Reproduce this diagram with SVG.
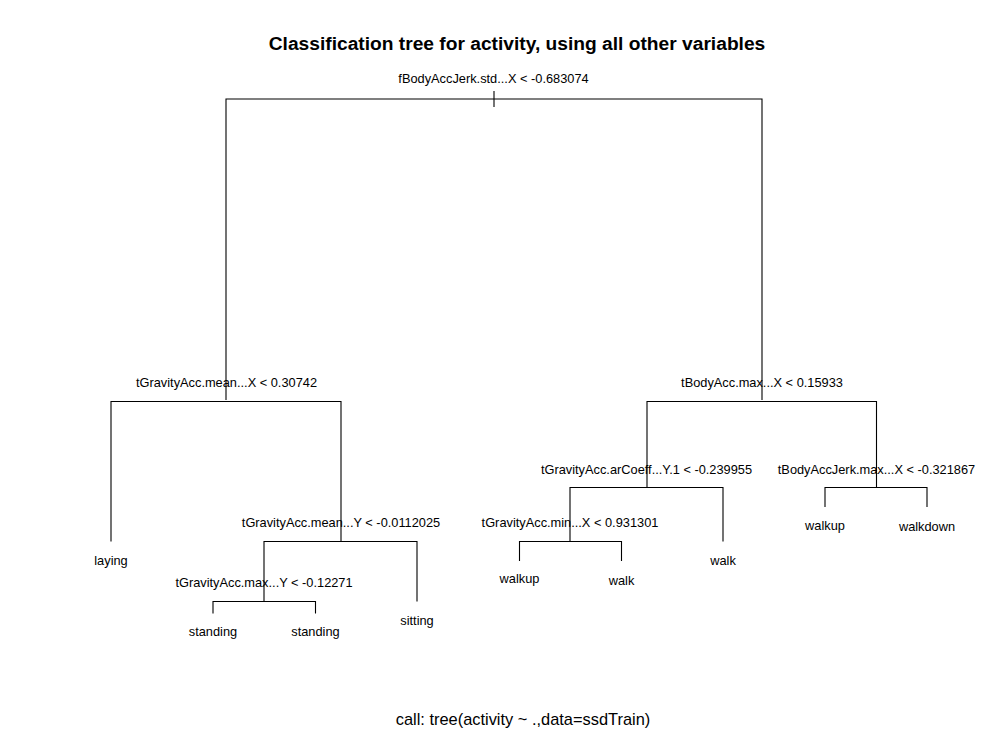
<svg xmlns="http://www.w3.org/2000/svg" width="1000" height="732" viewBox="0 0 1000 732">
<style>
.t{font-family:"Liberation Sans",Arial,sans-serif;font-size:12.8px;fill:#000;text-anchor:middle}
.title{font-family:"Liberation Sans",Arial,sans-serif;font-size:19.2px;font-weight:bold;fill:#000;text-anchor:middle}
.foot{font-family:"Liberation Sans",Arial,sans-serif;font-size:16.4px;fill:#000;text-anchor:middle}
.c line,.c path{stroke:#000;stroke-width:1.1;fill:none}
</style>
<rect width="1000" height="732" fill="#fff"/>
<text class="title" x="517" y="49.5">Classification tree for activity, using all other variables</text>
<g class="c" id="connectors">
<line x1="494" y1="91" x2="494" y2="107"/>
<path d="M226,400 V99 H762 V400"/>
<path d="M111,541.5 V401.5 H341 V541.5"/>
<path d="M417,601.5 V541.5 H264 V601.5"/>
<path d="M213,613.5 V601.5 H315.5 V613.5"/>
<path d="M647,487.5 V401.5 H876.5 V487.5"/>
<path d="M723,541.5 V487.5 H570 V541.5"/>
<path d="M519.5,561 V541.5 H621.5 V561"/>
<path d="M825,507 V487.5 H927 V507"/>
</g>
<g id="n1"><text class="t" x="493.5" y="83">fBodyAccJerk.std...X &lt; -0.683074</text></g>
<g id="n2"><text class="t" x="226.5" y="387">tGravityAcc.mean...X &lt; 0.30742</text></g>
<g id="n3"><text class="t" x="762" y="387">tBodyAcc.max...X &lt; 0.15933</text></g>
<g id="n4"><text class="t" x="111" y="565">laying</text></g>
<g id="n5"><text class="t" x="341" y="527">tGravityAcc.mean...Y &lt; -0.0112025</text></g>
<g id="n6"><text class="t" x="264" y="587">tGravityAcc.max...Y &lt; -0.12271</text></g>
<g id="n7"><text class="t" x="213" y="636">standing</text></g>
<g id="n8"><text class="t" x="315.5" y="636">standing</text></g>
<g id="n9"><text class="t" x="417" y="625">sitting</text></g>
<g id="n10"><text class="t" x="646.5" y="473.5">tGravityAcc.arCoeff...Y.1 &lt; -0.239955</text></g>
<g id="n11"><text class="t" x="570" y="527">tGravityAcc.min...X &lt; 0.931301</text></g>
<g id="n12"><text class="t" x="519.5" y="583">walkup</text></g>
<g id="n13"><text class="t" x="621.5" y="584.5">walk</text></g>
<g id="n14"><text class="t" x="723" y="564.5">walk</text></g>
<g id="n15"><text class="t" x="876.5" y="473.5">tBodyAccJerk.max...X &lt; -0.321867</text></g>
<g id="n16"><text class="t" x="825" y="530">walkup</text></g>
<g id="n17"><text class="t" x="927" y="531">walkdown</text></g>
<text class="foot" x="523" y="725">call: tree(activity ~ .,data=ssdTrain)</text>
</svg>
